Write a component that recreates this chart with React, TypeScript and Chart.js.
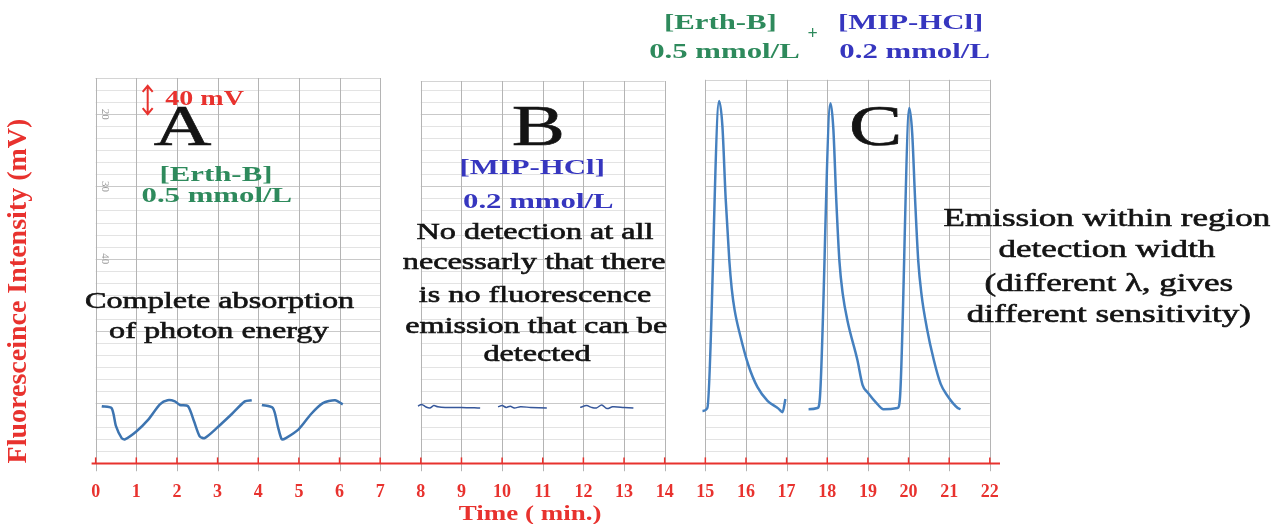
import React, { useEffect, useRef } from "react";
import { Chart, registerables } from "chart.js";

Chart.register(...registerables);

// ---------------- data ----------------
const timeTicks = [0, 1, 2, 3, 4, 5, 6, 7, 8, 9, 10, 11, 12, 13, 14, 15, 16, 17, 18, 19, 20, 21, 22];

// Panel A : [Erth-B] 0.5 mmol/L (absorption dips)
const timeA = [0.15, 0.39, 0.5, 0.64, 0.72, 1.0, 1.3, 1.58, 1.77, 1.95, 2.07, 2.27, 2.42, 2.56, 2.68, 3.0, 3.35, 3.67, 3.84, 3.95, 4.09, 4.36, 4.48, 4.58, 4.68, 5.0, 5.3, 5.59, 5.89, 6.08];
const signalA = [95, 92, 62, 42, 40, 53, 73, 98, 105, 103, 97, 95, 70, 45, 42, 60, 82, 103, 105, null, 97, 92, 62, 40, 42, 57, 82, 100, 105, 98];

// Panel B : [MIP-HCl] 0.2 mmol/L (no detection)
const timeB = [7.93, 8.02, 8.12, 8.22, 8.32, 8.42, 8.6, 9.0, 9.46, 9.7, 9.9, 10.0, 10.1, 10.2, 10.3, 10.45, 10.7, 11.1, 11.5, 11.92, 12.08, 12.2, 12.32, 12.45, 12.58, 12.72, 13.0, 13.23];
const signalB = [95, 98, 94, 92, 96, 94, 93, 93, 92, null, 94, 96, 93, 95, 92, 94, 93, 92, null, 93, 96, 93, 92, 97, 91, 94, 93, 92];

// Panel C : [Erth-B] + [MIP-HCl] (emission peaks)
const timeC = [14.93, 15.05, 15.34, 15.42, 15.5, 15.59, 15.65, 15.72, 15.86, 16.06, 16.28, 16.53, 16.8, 16.9, 16.97, 17.25, 17.54, 17.76, 17.82, 18.08, 18.15, 18.22, 18.3, 18.38, 18.5, 18.74, 18.87, 18.99, 19.24, 19.38, 19.73, 19.79, 20.02, 20.09, 20.16, 20.24, 20.32, 20.45, 20.62, 20.79, 20.96, 21.21, 21.28];
const signalC = [87, 92, 602, 560, 440, 337, 290, 255, 212, 163, 127, 104, 91, 85, 107, null, 90, 92, 110, 598, 555, 440, 335, 282, 236, 172, 130, 118, 98, 90, 92, 110, 590, 548, 440, 335, 280, 225, 172, 132, 112, 92, 90];

// chart-paper scale labels printed on panel A
const paperLabels = ["20", "30", "40"];
const paperLabelValues = [580, 460, 340];

// ---------------- styles / layout ----------------
const RED = "#e8322e";
const GREEN = "#2e8a5c";
const BLUE = "#3636bf";
const BLACK = "#141414";
const SERIF = '"Liberation Serif", "Times New Roman", serif';
const STRETCH = 1.4;

const panels = [
  { from: 0, to: 7, top: 640 },
  { from: 8, to: 14, top: 635 },
  { from: 15, to: 22, top: 637 },
];

type Note = { text: string; t: number; v: number; size: number; bold?: boolean; color: string; sx?: number };
const notes: Note[] = [
  { text: "40 mV", t: 2.68, v: 603, size: 20, bold: true, color: RED },
  { text: "A", t: 2.14, v: 553, size: 57, color: BLACK },
  { text: "[Erth-B]", t: 2.96, v: 479, size: 22, bold: true, color: GREEN },
  { text: "0.5 mmol/L", t: 2.98, v: 443, size: 22, bold: true, color: GREEN },
  { text: "Complete absorption", t: 3.05, v: 268, size: 23, color: BLACK },
  { text: "of photon energy", t: 3.03, v: 218, size: 23, color: BLACK },
  { text: "B", t: 10.89, v: 553, size: 57, color: BLACK },
  { text: "[MIP-HCl]", t: 10.74, v: 490, size: 22, bold: true, color: BLUE },
  { text: "0.2 mmol/L", t: 10.89, v: 433, size: 22, bold: true, color: BLUE },
  { text: "No detection at all", t: 10.81, v: 383, size: 23, color: BLACK },
  { text: "necessarly that there", t: 10.79, v: 333, size: 23, color: BLACK },
  { text: "is no fluorescence", t: 10.81, v: 278, size: 23, color: BLACK },
  { text: "emission that can be", t: 10.84, v: 227, size: 23, color: BLACK },
  { text: "detected", t: 10.86, v: 180, size: 23, color: BLACK },
  { text: "C", t: 19.19, v: 553, size: 57, color: BLACK },
  { text: "Emission within region", t: 24.88, v: 405, size: 25, color: BLACK },
  { text: "detection width", t: 24.88, v: 353, size: 25, color: BLACK },
  { text: "(different \u03bb, gives", t: 24.93, v: 297, size: 25, color: BLACK },
  { text: "different sensitivity)", t: 24.93, v: 245, size: 25, color: BLACK },
  { text: "[Erth-B]", t: 15.37, v: 730, size: 22, bold: true, color: GREEN },
  { text: "0.5 mmol/L", t: 15.47, v: 683, size: 22, bold: true, color: GREEN },
  { text: "+", t: 17.64, v: 712, size: 18, bold: true, color: GREEN, sx: 1 },
  { text: "[MIP-HCl]", t: 20.05, v: 730, size: 22, bold: true, color: BLUE },
  { text: "0.2 mmol/L", t: 20.15, v: 682, size: 22, bold: true, color: BLUE },
];

const toPoints = (ts: number[], vs: (number | null)[]) => ts.map((t, i) => ({ x: t, y: vs[i] }));

function drawStretched(ctx: CanvasRenderingContext2D, text: string, x: number, y: number, font: string, color: string, sx: number, weight = 0) {
  ctx.save();
  ctx.translate(x, y);
  ctx.scale(sx, 1);
  ctx.font = font;
  ctx.fillStyle = color;
  ctx.textAlign = "center";
  ctx.textBaseline = "middle";
  ctx.fillText(text, 0, 0);
  if (weight > 0) {
    ctx.strokeStyle = color;
    ctx.lineWidth = weight;
    ctx.strokeText(text, 0, 0);
  }
  ctx.restore();
}

const paperPlugin = {
  id: "paperPlugin",
  beforeDatasetsDraw(chart: any) {
    const { ctx, scales } = chart;
    const x = scales.x;
    const y = scales.y;
    ctx.save();
    for (const p of panels) {
      const x0 = x.getPixelForValue(p.from);
      const x1 = x.getPixelForValue(p.to);
      const yTop = y.getPixelForValue(p.top);
      const yBot = y.getPixelForValue(-13);
      for (let v = 20; v <= p.top; v += 20) {
        const py = Math.round(y.getPixelForValue(v)) + 0.5;
        const major = (v - 100) % 120 === 0;
        ctx.strokeStyle = major ? "#c9c9c9" : "#e3e3e3";
        ctx.lineWidth = 1;
        ctx.beginPath();
        ctx.moveTo(x0, py);
        ctx.lineTo(x1, py);
        ctx.stroke();
      }
      ctx.strokeStyle = "#d4d4d4";
      ctx.beginPath();
      ctx.moveTo(x0, Math.round(yTop) + 0.5);
      ctx.lineTo(x1, Math.round(yTop) + 0.5);
      ctx.stroke();
      for (let t = p.from; t <= p.to; t += 1) {
        const px = Math.round(x.getPixelForValue(t)) + 0.5;
        ctx.strokeStyle = "#b4b4b4";
        ctx.lineWidth = 1;
        ctx.beginPath();
        ctx.moveTo(px, yTop);
        ctx.lineTo(px, yBot);
        ctx.stroke();
      }
    }
    ctx.fillStyle = "#9a9a9a";
    ctx.font = `11px ${SERIF}`;
    paperLabels.forEach((lab, i) => {
      ctx.save();
      ctx.translate(x.getPixelForValue(0.22), y.getPixelForValue(paperLabelValues[i]));
      ctx.rotate(Math.PI / 2);
      ctx.textAlign = "center";
      ctx.textBaseline = "middle";
      ctx.fillText(lab, 0, 0);
      ctx.restore();
    });
    const base = chart.chartArea.bottom;
    ctx.strokeStyle = RED;
    ctx.lineWidth = 2;
    ctx.beginPath();
    ctx.moveTo(chart.chartArea.left, base);
    ctx.lineTo(chart.chartArea.right, base);
    ctx.stroke();
    ctx.lineWidth = 1.5;
    for (const t of timeTicks) {
      const px = x.getPixelForValue(t);
      ctx.beginPath();
      ctx.moveTo(px, base);
      ctx.lineTo(px, base - 6);
      ctx.stroke();
    }
    ctx.restore();
  },
  afterDraw(chart: any) {
    const { ctx, scales } = chart;
    const x = scales.x;
    const y = scales.y;
    for (const n of notes) {
      const font = `${n.bold ? "bold " : ""}${n.size}px ${SERIF}`;
      drawStretched(ctx, n.text, x.getPixelForValue(n.t), y.getPixelForValue(n.v), font, n.color, n.sx ?? STRETCH, n.bold ? 0 : 0.6);
    }
    const ax = x.getPixelForValue(1.28);
    const ay0 = y.getPixelForValue(627);
    const ay1 = y.getPixelForValue(580);
    ctx.save();
    ctx.strokeStyle = RED;
    ctx.lineWidth = 2;
    ctx.beginPath();
    ctx.moveTo(ax, ay0);
    ctx.lineTo(ax, ay1);
    ctx.moveTo(ax - 5, ay0 + 6);
    ctx.lineTo(ax, ay0);
    ctx.lineTo(ax + 5, ay0 + 6);
    ctx.moveTo(ax - 5, ay1 - 6);
    ctx.lineTo(ax, ay1);
    ctx.lineTo(ax + 5, ay1 - 6);
    ctx.stroke();
    ctx.restore();
    drawStretched(ctx, "Time ( min.)", x.getPixelForValue(10.69), chart.chartArea.bottom + 51, `bold 20px ${SERIF}`, RED, 1.35);
  },
};

export default function App() {
  const canvasRef = useRef<HTMLCanvasElement | null>(null);

  useEffect(() => {
    document.body.style.margin = "0";
    const canvas = canvasRef.current;
    if (!canvas) return;
    const chart = new Chart(canvas, {
      type: "line",
      data: {
        datasets: [
          {
            label: "Erth-B",
            data: toPoints(timeA, signalA),
            borderColor: "#3d74b0",
            borderWidth: 2.5,
            pointRadius: 0,
            tension: 0.25,
            spanGaps: false,
          },
          {
            label: "MIP-HCl",
            data: toPoints(timeB, signalB),
            borderColor: "#36579a",
            borderWidth: 1.5,
            pointRadius: 0,
            tension: 0.3,
            spanGaps: false,
          },
          {
            label: "Erth-B + MIP-HCl",
            data: toPoints(timeC, signalC),
            borderColor: "#4580bf",
            borderWidth: 2.5,
            pointRadius: 0,
            cubicInterpolationMode: "monotone",
            spanGaps: false,
          },
        ],
      },
      options: {
        animation: false,
        responsive: false,
        devicePixelRatio: 1,
        layout: { padding: { left: 2, right: 280, top: 78, bottom: 3 } },
        plugins: { legend: { display: false }, tooltip: { enabled: false } },
        scales: {
          x: {
            type: "linear",
            min: -0.1,
            max: 22.25,
            afterBuildTicks: (s: any) => {
              s.ticks = timeTicks.map((v) => ({ value: v }));
            },
            ticks: {
              color: RED,
              font: { family: SERIF, size: 18, weight: "bold" },
              padding: 18,
              maxRotation: 0,
              autoSkip: false,
              callback: (v: any) => String(v),
            },
            grid: { display: false, drawTicks: false },
            border: { display: false },
          },
          y: {
            type: "linear",
            min: 0,
            max: 640,
            ticks: { display: false },
            grid: { display: false, drawTicks: false },
            border: { display: false },
            title: {
              display: true,
              text: "Fluoresceince Intensity (mV)",
              color: RED,
              align: "start",
              font: { family: SERIF, size: 28, weight: "bold" },
              padding: { top: 0, bottom: 56 },
            },
          },
        },
      },
      plugins: [paperPlugin],
    });
    return () => chart.destroy();
  }, []);

  return (
    <div style={{ width: 1280, height: 524 }}>
      <canvas ref={canvasRef} width={1280} height={524} />
    </div>
  );
}
